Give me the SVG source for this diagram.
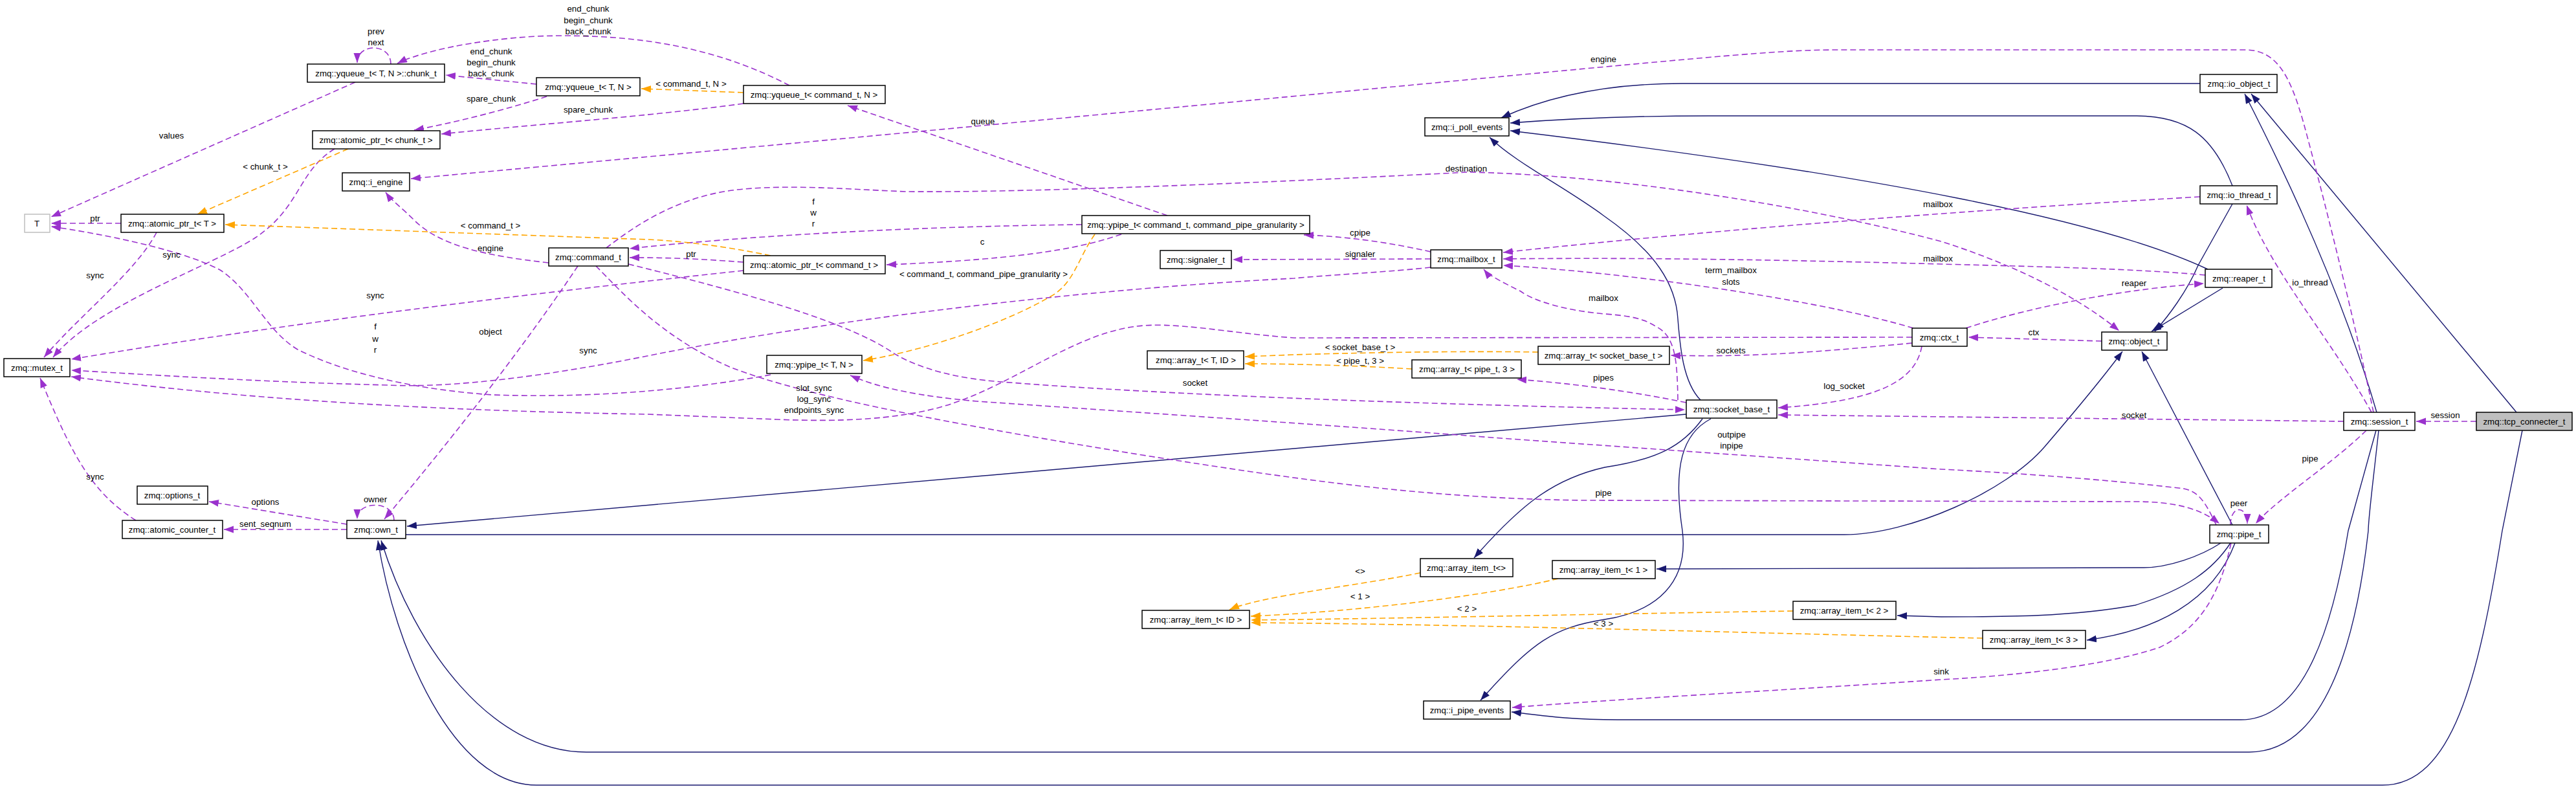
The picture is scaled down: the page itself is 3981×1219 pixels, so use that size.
<svg xmlns="http://www.w3.org/2000/svg" width="3981" height="1219" viewBox="0 0 3981 1219">
<style>
text{font-family:"Liberation Sans",Arial,sans-serif;font-size:13.3px;text-anchor:middle;dominant-baseline:central;fill:#000}
.n rect{fill:#fff;stroke:#000;stroke-width:1.5}
.u{fill:none;stroke:#9a32cd;stroke-width:1.6;stroke-dasharray:9,5;marker-end:url(#mu)}
.t{fill:none;stroke:#ffa500;stroke-width:1.6;stroke-dasharray:9,5;marker-end:url(#mt)}
.i{fill:none;stroke:#191970;stroke-width:1.4;marker-end:url(#mi)}
</style>
<defs>
<marker id="mu" markerUnits="userSpaceOnUse" markerWidth="16" markerHeight="12" refX="15" refY="5.5" orient="auto"><path d="M0,0 L15,5.5 L0,11 z" fill="#9a32cd"/></marker>
<marker id="mt" markerUnits="userSpaceOnUse" markerWidth="16" markerHeight="12" refX="15" refY="5.5" orient="auto"><path d="M0,0 L15,5.5 L0,11 z" fill="#ffa500"/></marker>
<marker id="mi" markerUnits="userSpaceOnUse" markerWidth="16" markerHeight="12" refX="15" refY="5.5" orient="auto"><path d="M0,0 L15,5.5 L0,11 z" fill="#191970"/></marker>
</defs>
<rect width="3981" height="1219" fill="#fff"/>
<g id="connectors">
<!-- inheritance -->
<path class="i" d="M3400,129 L2600,129 C2480,129 2390,150 2320,182"/>
<path class="i" d="M3450,287 C3420,210 3380,179 3300,179 L2640,179 C2500,179 2400,185 2334,190"/>
<path class="i" d="M3412,416 C3250,340 2900,270 2334,202"/>
<path class="i" d="M2628,618 C2600,590 2596,530 2593,493 C2590,440 2560,390 2478,333 C2420,290 2340,250 2302,212"/>
<path class="i" d="M3450,315 L3397,410 C3380,450 3350,490 3330,512"/>
<path class="i" d="M3435,445 L3325,512"/>
<path class="i" d="M627,826 L2850,826 C2950,826 3100,760 3160,690 C3220,620 3260,570 3280,543"/>
<path class="i" d="M3450,811 L3310,543"/>
<path class="i" d="M2606,640 L629,813"/>
<path class="i" d="M3676,665 C3668,740 3660,800 3660,820 C3640,1000 3590,1162 3476,1162 L906,1162 C760,1162 640,1000 589,835"/>
<path class="i" d="M3898,665 L3867,820 C3830,1050 3790,1213 3682,1213 L829,1213 C700,1213 610,1000 584,835"/>
<path class="i" d="M3672,665 L3629,820 C3600,1000 3550,1112 3463,1112 L2500,1112 C2420,1112 2380,1105 2336,1100"/>
<path class="i" d="M3889,637 L3479,145"/>
<path class="i" d="M3673,637 Q3610,420 3469,145"/>
<path class="i" d="M3432,839 C3400,860 3350,877 3313,877 L2560,879"/>
<path class="i" d="M3447,839 C3420,880 3380,910 3300,935 C3200,953 3100,953 3000,953 L2932,951"/>
<path class="i" d="M3454,839 C3420,930 3330,975 3225,989"/>
<path class="i" d="M2631,647 C2600,690 2560,710 2480,722 C2400,740 2350,780 2278,862"/>
<path class="i" d="M2644,647 C2600,670 2585,720 2600,820 C2610,900 2560,945 2480,957 C2400,970 2370,990 2288,1082"/>
<!-- usage -->
<path class="u" d="M1220,132 C1120,80 1000,50 829,56 C730,62 650,80 614,98"/>
<path class="u" d="M604,99 C604,66 552,66 552,97"/>
<path class="u" d="M829,130 L689,116"/>
<path class="u" d="M845,149 C780,170 700,190 640,201"/>
<path class="u" d="M1149,160 C1000,180 850,190 682,207"/>
<path class="u" d="M549,127 L79,335"/>
<path class="u" d="M187,345 L79,345"/>
<path class="u" d="M1191,579 C1050,605 900,615 760,610 C620,600 520,570 460,540 C410,510 390,450 340,417 C280,385 150,360 79,350"/>
<path class="u" d="M242,359 C210,420 120,490 68,552"/>
<path class="u" d="M517,230 C460,265 465,320 395,367 C330,410 150,470 82,552"/>
<path class="u" d="M1149,418 C900,445 500,490 110,555"/>
<path class="u" d="M2211,413 C2150,420 2050,425 2000,430 C1700,445 1300,490 1000,550 C850,580 700,600 600,595 C400,590 250,580 110,572"/>
<path class="u" d="M2955,521 L2000,522 C1900,515 1810,495 1750,505 C1650,520 1560,600 1450,630 C1380,648 1300,652 1200,648 L1000,640 C700,635 400,620 110,582"/>
<path class="u" d="M210,804 C140,760 110,700 62,584"/>
<path class="u" d="M1672,347 C1400,350 1150,365 973,384"/>
<path class="u" d="M1149,405 C1080,400 1040,398 973,398"/>
<path class="u" d="M1804,333 L1310,163"/>
<path class="u" d="M1733,362 C1680,380 1600,400 1370,409"/>
<path class="u" d="M3668,637 C3640,500 3590,300 3560,190 C3540,120 3520,77 3470,77 L2842,77 C2700,77 2600,95 635,276"/>
<path class="u" d="M3665,637 C3600,520 3510,420 3472,317"/>
<path class="u" d="M3622,651 L2748,641"/>
<path class="u" d="M3657,665 C3600,720 3520,770 3486,809"/>
<path class="u" d="M3827,651 L3734,651"/>
<path class="u" d="M3248,527 L3042,521"/>
<path class="u" d="M3038,507 C3150,470 3300,445 3406,438"/>
<path class="u" d="M2957,507 C2800,460 2500,420 2323,410"/>
<path class="u" d="M2955,530 C2800,545 2700,552 2582,549"/>
<path class="u" d="M2970,535 C2960,590 2900,620 2748,630"/>
<path class="u" d="M2593,618 C2592,560 2590,520 2560,505 C2540,492 2520,488 2480,485 C2420,480 2370,465 2350,450 C2320,435 2300,425 2293,416"/>
<path class="u" d="M3400,304 C3000,327 2600,360 2323,390"/>
<path class="u" d="M3408,425 C3300,415 3150,412 3000,408 C2700,400 2500,398 2323,400"/>
<path class="u" d="M2211,389 C2150,375 2080,365 2015,363"/>
<path class="u" d="M2211,400 L1905,401"/>
<path class="u" d="M2606,622 C2500,600 2400,590 2344,586"/>
<path class="u" d="M848,406 C750,395 680,380 640,340 C620,320 605,310 596,297"/>
<path class="u" d="M893,411 C800,550 680,700 594,802"/>
<path class="u" d="M937,383 C980,350 1050,300 1150,292 C1230,285 1320,293 1400,296 C1600,298 2000,280 2268,266 C2500,270 2800,320 3000,373 C3100,405 3200,450 3275,511"/>
<path class="u" d="M921,411 C960,450 1020,520 1128,567 C1250,615 1500,660 1765,703 C2000,740 2200,770 2446,773 L3300,775 C3360,775 3400,785 3430,809"/>
<path class="u" d="M971,408 C1100,440 1300,490 1380,545 C1420,570 1480,585 1548,590 C1800,610 2200,625 2604,633"/>
<path class="u" d="M3425,811 C3410,780 3400,760 3375,755 C3250,740 3100,730 3000,725 L2319,677 C2100,660 1800,640 1510,620 C1420,612 1360,600 1314,580"/>
<path class="u" d="M3447,811 C3447,780 3473,780 3473,809"/>
<path class="u" d="M3448,839 C3430,920 3400,970 3338,1000 C3250,1030 3100,1045 3000,1050 C2700,1070 2500,1080 2337,1093"/>
<path class="u" d="M536,810 L323,775"/>
<path class="u" d="M536,818 L346,818"/>
<path class="u" d="M609,804 C609,773 552,773 552,802"/>
<!-- template -->
<path class="t" d="M1149,143 L991,137"/>
<path class="t" d="M538,230 L305,331"/>
<path class="t" d="M1191,395 C1120,380 1050,372 1000,370 L348,347"/>
<path class="t" d="M1692,362 C1665,400 1660,440 1620,460 C1560,495 1440,540 1334,557"/>
<path class="t" d="M2377,544 C2250,542 2100,545 2000,548 L1924,551"/>
<path class="t" d="M2182,570 C2100,565 2000,562 1924,562"/>
<path class="t" d="M2195,885 C2100,905 1950,920 1900,942"/>
<path class="t" d="M2408,894 C2300,920 2100,945 1933,952"/>
<path class="t" d="M2771,944 C2500,948 2200,955 1933,958"/>
<path class="t" d="M3064,986 C2700,978 2300,965 1933,962"/>
</g>
<g id="labels">
<text x="909" y="13">end_chunk</text><text x="909" y="31">begin_chunk</text><text x="909" y="48">back_chunk</text>
<text x="581" y="48">prev</text><text x="581" y="65">next</text>
<text x="759" y="79">end_chunk</text><text x="759" y="96">begin_chunk</text><text x="759" y="113">back_chunk</text>
<text x="759" y="152">spare_chunk</text><text x="909" y="169">spare_chunk</text>
<text x="265" y="209">values</text>
<text x="410" y="257">&lt; chunk_t &gt;</text>
<text x="147" y="337">ptr</text>
<text x="758" y="348">&lt; command_t &gt;</text>
<text x="265" y="393">sync</text>
<text x="758" y="383">engine</text>
<text x="1068" y="129">&lt; command_t, N &gt;</text>
<text x="1519" y="187">queue</text>
<text x="1257" y="311">f</text><text x="1257" y="328">w</text><text x="1257" y="345">r</text>
<text x="1518" y="373">c</text>
<text x="1068" y="392">ptr</text>
<text x="2478" y="91">engine</text>
<text x="2266" y="260">destination</text>
<text x="2102" y="359">cpipe</text>
<text x="2102" y="392">signaler</text>
<text x="2995" y="315">mailbox</text>
<text x="2995" y="399">mailbox</text>
<text x="147" y="425">sync</text>
<text x="580" y="456">sync</text>
<text x="580" y="504">f</text><text x="580" y="523">w</text><text x="580" y="540">r</text>
<text x="758" y="512">object</text>
<text x="909" y="541">sync</text>
<text x="147" y="736">sync</text>
<text x="410" y="775">options</text>
<text x="580" y="771">owner</text>
<text x="410" y="809">sent_seqnum</text>
<text x="1520" y="423">&lt; command_t, command_pipe_granularity &gt;</text>
<text x="1847" y="591">socket</text>
<text x="1258" y="599">slot_sync</text><text x="1258" y="616">log_sync</text><text x="1258" y="633">endpoints_sync</text>
<text x="2675" y="417">term_mailbox</text><text x="2675" y="435">slots</text>
<text x="2478" y="460">mailbox</text>
<text x="2102" y="536">&lt; socket_base_t &gt;</text>
<text x="2102" y="557">&lt; pipe_t, 3 &gt;</text>
<text x="2675" y="541">sockets</text>
<text x="2478" y="583">pipes</text>
<text x="2850" y="596">log_socket</text>
<text x="2676" y="671">outpipe</text><text x="2676" y="688">inpipe</text>
<text x="2478" y="761">pipe</text>
<text x="3298" y="437">reaper</text>
<text x="3143" y="513">ctx</text>
<text x="3570" y="436">io_thread</text>
<text x="3298" y="641">socket</text>
<text x="3779" y="641">session</text>
<text x="3570" y="708">pipe</text>
<text x="3460" y="777">peer</text>
<text x="3000" y="1037">sink</text>
<text x="2102" y="882">&lt;&gt;</text>
<text x="2102" y="921">&lt; 1 &gt;</text>
<text x="2267" y="940">&lt; 2 &gt;</text>
<text x="2478" y="963">&lt; 3 &gt;</text>
</g>
<g id="chunk_t" class="n"><rect x="475" y="99" width="212" height="28"/><text x="581" y="113">zmq::yqueue_t&lt; T, N &gt;::chunk_t</text></g>
<g id="yqueue_T" class="n"><rect x="829" y="120" width="160" height="28"/><text x="909" y="134">zmq::yqueue_t&lt; T, N &gt;</text></g>
<g id="yqueue_cmd" class="n"><rect x="1149" y="132" width="219" height="28"/><text x="1258" y="146">zmq::yqueue_t&lt; command_t, N &gt;</text></g>
<g id="atomic_ptr_chunk" class="n"><rect x="483" y="202" width="197" height="28"/><text x="581" y="216">zmq::atomic_ptr_t&lt; chunk_t &gt;</text></g>
<g id="i_engine" class="n"><rect x="529" y="267" width="104" height="28"/><text x="581" y="281">zmq::i_engine</text></g>
<g id="T" class="n"><rect x="38" y="331" width="39" height="28" style="stroke:#bfbfbf"/><text x="57" y="345">T</text></g>
<g id="atomic_ptr_T" class="n"><rect x="187" y="331" width="159" height="28"/><text x="266" y="345">zmq::atomic_ptr_t&lt; T &gt;</text></g>
<g id="command_t" class="n"><rect x="848" y="383" width="123" height="28"/><text x="909" y="397">zmq::command_t</text></g>
<g id="atomic_ptr_cmd" class="n"><rect x="1149" y="395" width="219" height="28"/><text x="1258" y="409">zmq::atomic_ptr_t&lt; command_t &gt;</text></g>
<g id="ypipe_cmd" class="n"><rect x="1672" y="333" width="352" height="28"/><text x="1848" y="347">zmq::ypipe_t&lt; command_t, command_pipe_granularity &gt;</text></g>
<g id="signaler_t" class="n"><rect x="1793" y="387" width="110" height="28"/><text x="1848" y="401">zmq::signaler_t</text></g>
<g id="i_poll_events" class="n"><rect x="2202" y="182" width="130" height="28"/><text x="2267" y="196">zmq::i_poll_events</text></g>
<g id="mailbox_t" class="n"><rect x="2211" y="386" width="110" height="28"/><text x="2266" y="400">zmq::mailbox_t</text></g>
<g id="io_object_t" class="n"><rect x="3400" y="115" width="119" height="28"/><text x="3460" y="129">zmq::io_object_t</text></g>
<g id="io_thread_t" class="n"><rect x="3400" y="287" width="119" height="28"/><text x="3460" y="301">zmq::io_thread_t</text></g>
<g id="reaper_t" class="n"><rect x="3408" y="416" width="103" height="28"/><text x="3460" y="430">zmq::reaper_t</text></g>
<g id="ctx_t" class="n"><rect x="2955" y="507" width="85" height="28"/><text x="2997" y="521">zmq::ctx_t</text></g>
<g id="object_t" class="n"><rect x="3248" y="513" width="101" height="28"/><text x="3298" y="527">zmq::object_t</text></g>
<g id="mutex_t" class="n"><rect x="6" y="554" width="102" height="28"/><text x="57" y="568">zmq::mutex_t</text></g>
<g id="ypipe_T" class="n"><rect x="1185" y="549" width="147" height="28"/><text x="1258" y="563">zmq::ypipe_t&lt; T, N &gt;</text></g>
<g id="array_T_ID" class="n"><rect x="1773" y="542" width="149" height="28"/><text x="1848" y="556">zmq::array_t&lt; T, ID &gt;</text></g>
<g id="array_socket" class="n"><rect x="2377" y="535" width="203" height="28"/><text x="2478" y="549">zmq::array_t&lt; socket_base_t &gt;</text></g>
<g id="array_pipe" class="n"><rect x="2182" y="556" width="169" height="28"/><text x="2267" y="570">zmq::array_t&lt; pipe_t, 3 &gt;</text></g>
<g id="socket_base_t" class="n"><rect x="2606" y="618" width="140" height="28"/><text x="2676" y="632">zmq::socket_base_t</text></g>
<g id="session_t" class="n"><rect x="3622" y="637" width="110" height="28"/><text x="3677" y="651">zmq::session_t</text></g>
<g id="tcp_connecter_t" class="n"><rect x="3827" y="637" width="148" height="28" style="fill:#bfbfbf"/><text x="3901" y="651">zmq::tcp_connecter_t</text></g>
<g id="options_t" class="n"><rect x="212" y="751" width="109" height="28"/><text x="266" y="765">zmq::options_t</text></g>
<g id="atomic_counter_t" class="n"><rect x="189" y="804" width="155" height="28"/><text x="266" y="818">zmq::atomic_counter_t</text></g>
<g id="own_t" class="n"><rect x="536" y="804" width="91" height="28"/><text x="581" y="818">zmq::own_t</text></g>
<g id="pipe_t" class="n"><rect x="3415" y="811" width="91" height="28"/><text x="3460" y="825">zmq::pipe_t</text></g>
<g id="array_item_t" class="n"><rect x="2195" y="863" width="143" height="28"/><text x="2266" y="877">zmq::array_item_t&lt;&gt;</text></g>
<g id="array_item_1" class="n"><rect x="2399" y="866" width="159" height="28"/><text x="2478" y="880">zmq::array_item_t&lt; 1 &gt;</text></g>
<g id="array_item_ID" class="n"><rect x="1765" y="943" width="166" height="28"/><text x="1848" y="957">zmq::array_item_t&lt; ID &gt;</text></g>
<g id="array_item_2" class="n"><rect x="2771" y="929" width="159" height="28"/><text x="2850" y="943">zmq::array_item_t&lt; 2 &gt;</text></g>
<g id="array_item_3" class="n"><rect x="3064" y="974" width="159" height="28"/><text x="3143" y="988">zmq::array_item_t&lt; 3 &gt;</text></g>
<g id="i_pipe_events" class="n"><rect x="2200" y="1083" width="134" height="28"/><text x="2267" y="1097">zmq::i_pipe_events</text></g>
</svg>
